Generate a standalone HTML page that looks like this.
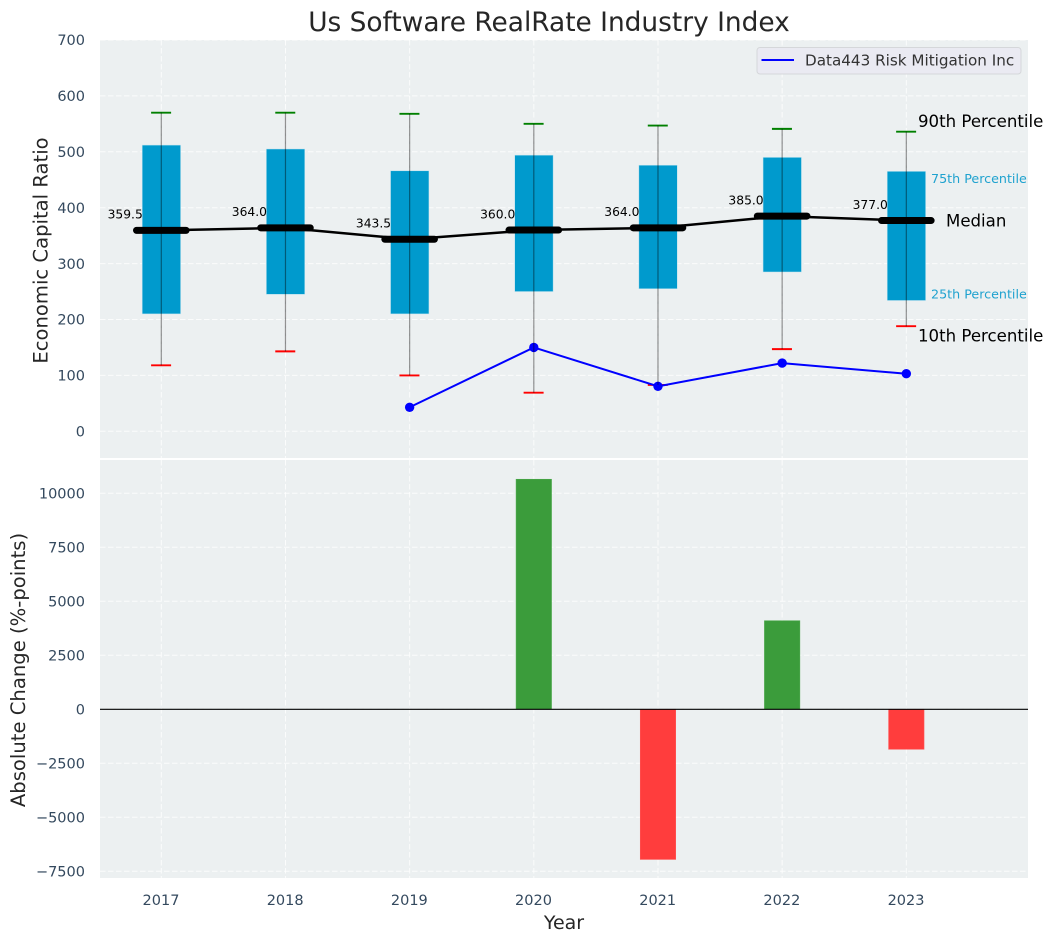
<!DOCTYPE html>
<html lang="en">
<head>
<meta charset="utf-8">
<title>Us Software RealRate Industry Index</title>
<style>
html,body{margin:0;padding:0;background:#fff;width:1053px;height:942px;overflow:hidden}
svg{display:block}
text{font-family:"DejaVu Sans","Liberation Sans",sans-serif}
</style>
</head>
<body>
<svg id="chart" xmlns="http://www.w3.org/2000/svg" width="1053" height="942" viewBox="0 0 1053 942"></svg>
<script>
const years = [2017, 2018, 2019, 2020, 2021, 2022, 2023];
const p90 = [570, 570, 568, 550, 547, 541, 536];
const p75 = [512, 505, 466, 494, 476, 490, 465];
const medians = [359.5, 364, 343.5, 360, 364, 385, 377];
const p25 = [210, 245, 210, 250, 255, 285, 234];
const p10 = [118, 143, 100, 69, 83, 147, 188];
const companyYears = [2019, 2020, 2021, 2022, 2023];
const companyValues = [43, 150, 80.5, 122, 103];
const changeYears = [2020, 2021, 2022, 2023];
const changeValues = [10650, -6950, 4100, -1850];
const topTicks = [0, 100, 200, 300, 400, 500, 600, 700];
const bottomTicks = [-7500, -5000, -2500, 0, 2500, 5000, 7500, 10000];

const NS = 'http://www.w3.org/2000/svg';
const svg = document.getElementById('chart');
const L = 100, R = 1028, T1 = 40, B1 = 458, T2 = 460, B2 = 878;
const x = v => 161.3 + (v - 2017) * 124.17;
const y1 = v => 431.3 - v * 0.559;
const y2 = v => 709.3 - v * 0.0216;

function add(tag, attrs, text) {
  const el = document.createElementNS(NS, tag);
  for (const k in attrs) el.setAttribute(k, attrs[k]);
  if (text !== undefined) el.textContent = text;
  svg.appendChild(el);
  return el;
}
function fmt(v) {
  return v < 0 ? '\u2212' + Math.abs(v) : String(v);
}
const TICK = '#34495e';
const TICK_SIZE = 14.5;
const GRID = {stroke: '#fff', 'stroke-opacity': 0.8, 'stroke-width': 1, 'stroke-dasharray': '5.5 2.5'};

let el;
el = add('rect', {x: L, y: T1, width: R - L, height: B1 - T1, fill: '#ecf0f1'});


el = add('rect', {x: L, y: T2, width: R - L, height: B2 - T2, fill: '#ecf0f1'});



// grid: horizontal
topTicks.forEach(t => {
  el = add('line', Object.assign({x1: L, x2: R, y1: y1(t), y2: y1(t)}, GRID));
  
  
  el = add('text', {x: 85, y: y1(t) + 5.2, 'text-anchor': 'end', 'font-size': TICK_SIZE, fill: TICK}, fmt(t));
  
  
});
bottomTicks.forEach(t => {
  el = add('line', Object.assign({x1: L, x2: R, y1: y2(t), y2: y2(t)}, GRID));
  
  
  el = add('text', {x: 85, y: y2(t) + 5.2, 'text-anchor': 'end', 'font-size': TICK_SIZE, fill: TICK}, fmt(t));
  
  
});
// grid: vertical + x tick labels
years.forEach(yr => {
  el = add('line', Object.assign({x1: x(yr), x2: x(yr), y1: T1, y2: B1}, GRID));
  
  
  el = add('line', Object.assign({x1: x(yr), x2: x(yr), y1: T2, y2: B2}, GRID));
  
  
  el = add('text', {x: x(yr) - 0.3, y: 905.2, 'text-anchor': 'middle', 'font-size': TICK_SIZE, fill: TICK}, String(yr));
  
  
});

// boxes
years.forEach((yr, i) => {
  el = add('rect', {x: x(yr) - 19.1, y: y1(p75[i]), width: 38.4, height: y1(p25[i]) - y1(p75[i]), fill: '#009acd', stroke: '#bfe3ef', 'stroke-width': 0.5});
  
  
});

// whisker caps
years.forEach((yr, i) => {
  el = add('line', {x1: x(yr) - 10.2, x2: x(yr) + 9.8, y1: y1(p90[i]), y2: y1(p90[i]), stroke: '#008000', 'stroke-width': 1.9});
  
  
  el = add('line', {x1: x(yr) - 10.2, x2: x(yr) + 9.8, y1: y1(p10[i]), y2: y1(p10[i]), stroke: '#ff0000', 'stroke-width': 1.9});
  
  
});

// company line
el = add('polyline', {points: companyYears.map((yr, i) => x(yr) + ',' + y1(companyValues[i])).join(' '), fill: 'none', stroke: '#0000ff', 'stroke-width': 2});


companyYears.forEach((yr, i) => {
  el = add('circle', {cx: x(yr), cy: y1(companyValues[i]), r: 4.7, fill: '#0000ff'});
  
  
});

// whisker stems
years.forEach((yr, i) => {
  el = add('line', {x1: x(yr), x2: x(yr), y1: y1(p90[i]), y2: y1(p10[i]), stroke: '#000', 'stroke-opacity': 0.42, 'stroke-width': 1.2});
  
  
});

// median line + thick median marks + labels
el = add('polyline', {points: years.map((yr, i) => x(yr) + ',' + y1(medians[i])).join(' '), fill: 'none', stroke: '#000', 'stroke-width': 2.5});


years.forEach((yr, i) => {
  el = add('line', {x1: x(yr) - 24.8, x2: x(yr) + 24.8, y1: y1(medians[i]), y2: y1(medians[i]), stroke: '#000', 'stroke-width': 7, 'stroke-linecap': 'round'});
  
  
  el = add('text', {x: x(yr) - 18.5, y: y1(medians[i]) - 11.6, 'text-anchor': 'end', 'font-size': 12.3, fill: '#000'}, medians[i].toFixed(1));
  
  
});

// percentile annotations anchored on last year
const last = years.length - 1;
el = add('text', {x: 918, y: y1(p90[last]) - 4.8, 'font-size': 16.6, fill: '#000'}, '90th Percentile');


el = add('text', {x: 931, y: y1(p75[last]) + 11.5, 'font-size': 12.7, fill: '#1fa2cf'}, '75th Percentile');


el = add('text', {x: 946, y: y1(medians[last]) + 5.7, 'font-size': 16.6, fill: '#000'}, 'Median');


el = add('text', {x: 931, y: y1(p25[last]) - 2, 'font-size': 12.7, fill: '#1fa2cf'}, '25th Percentile');


el = add('text', {x: 918, y: y1(p10[last]) + 15.2, 'font-size': 16.6, fill: '#000'}, '10th Percentile');



// change bars
changeYears.forEach((yr, i) => {
  const v = changeValues[i];
  const top = Math.min(y2(0), y2(v));
  const h = Math.abs(y2(v) - y2(0));
  el = add('rect', {x: x(yr) - 17.7, y: top, width: 35.4, height: h, fill: v >= 0 ? '#3b9c3b' : '#ff3d3d', stroke: v >= 0 ? '#4aa84a' : '#ff5555', 'stroke-width': 0.6});
  
  
});
el = add('line', {x1: L, x2: R, y1: y2(0), y2: y2(0), stroke: '#000', 'stroke-width': 1.2});



// legend
el = add('rect', {x: 757, y: 47.5, width: 264, height: 26.5, rx: 3, fill: '#eaeaf2', stroke: '#d5d7da', 'stroke-width': 1});


el = add('line', {x1: 761.5, x2: 794, y1: 60, y2: 60, stroke: '#0000ff', 'stroke-width': 2});


el = add('text', {x: 805, y: 65.7, 'font-size': 15.2, fill: '#333'}, 'Data443 Risk Mitigation Inc');



// titles
el = add('text', {x: 549, y: 31, 'text-anchor': 'middle', 'font-size': 26.4, fill: '#262626'}, 'Us Software RealRate Industry Index');


el = add('text', {x: 564, y: 929, 'text-anchor': 'middle', 'font-size': 19, fill: '#262626'}, 'Year');


el = add('text', {transform: 'translate(47.5,250.5) rotate(-90)', 'text-anchor': 'middle', 'font-size': 19.6, fill: '#262626'}, 'Economic Capital Ratio');


el = add('text', {transform: 'translate(25,670) rotate(-90)', 'text-anchor': 'middle', 'font-size': 19.6, fill: '#262626'}, 'Absolute Change (%-points)');


</script>
</body>
</html>
